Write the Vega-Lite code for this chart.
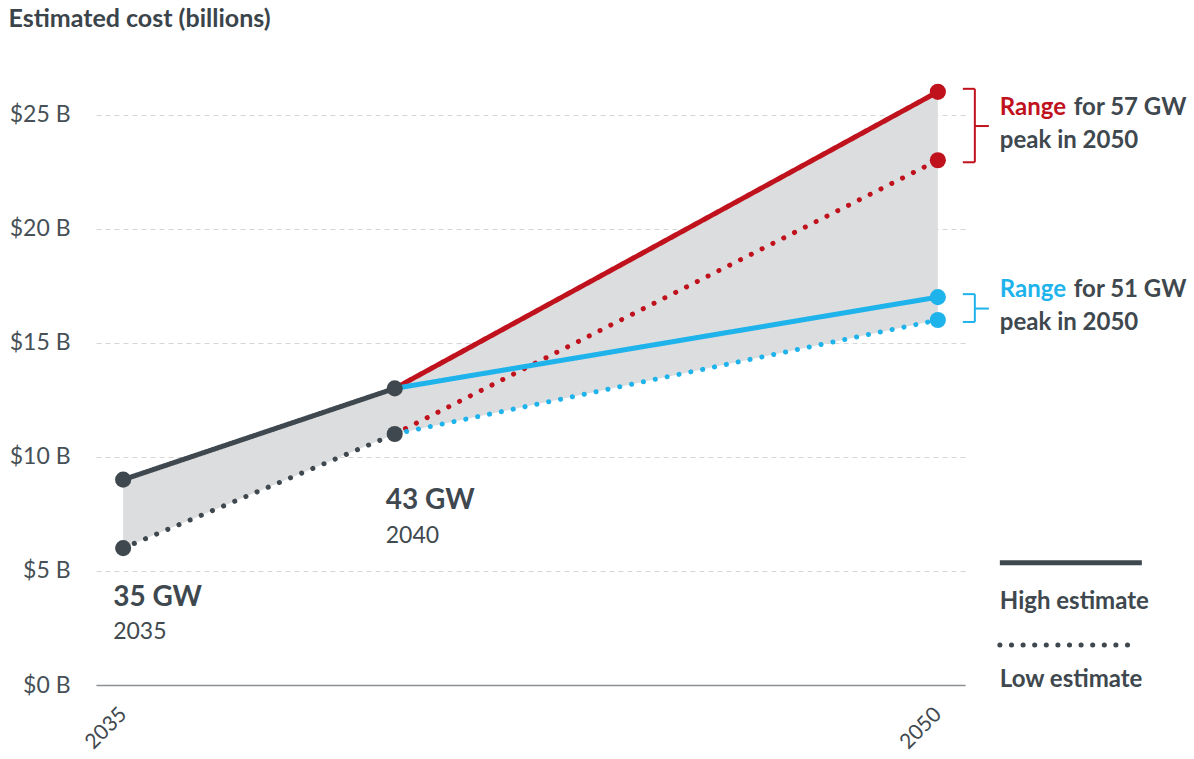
{
  "$schema": "https://vega.github.io/schema/vega-lite/v6.json",
  "width": 869,
  "height": 616,
  "autosize": {"type": "none"},
  "padding": {"left": 96, "top": 69, "right": 229, "bottom": 74},
  "background": "white",
  "config": {"font": "Lato", "view": {"stroke": null}},
  "datasets": {
    "estimates": [
      {"year": 2035, "value": 9, "series": "base", "estimate": "High"},
      {"year": 2040, "value": 13, "series": "base", "estimate": "High"},
      {"year": 2035, "value": 6, "series": "base", "estimate": "Low"},
      {"year": 2040, "value": 11, "series": "base", "estimate": "Low"},
      {"year": 2040, "value": 13, "series": "57 GW", "estimate": "High"},
      {"year": 2050, "value": 26, "series": "57 GW", "estimate": "High"},
      {"year": 2040, "value": 11, "series": "57 GW", "estimate": "Low"},
      {"year": 2050, "value": 23, "series": "57 GW", "estimate": "Low"},
      {"year": 2040, "value": 13, "series": "51 GW", "estimate": "High"},
      {"year": 2050, "value": 17, "series": "51 GW", "estimate": "High"},
      {"year": 2040, "value": 11, "series": "51 GW", "estimate": "Low"},
      {"year": 2050, "value": 16, "series": "51 GW", "estimate": "Low"}
    ],
    "band": [
      {"year": 2035, "low": 6, "high": 9},
      {"year": 2040, "low": 11, "high": 13},
      {"year": 2050, "low": 16, "high": 26}
    ],
    "ranges": [
      {"series": "57 GW", "low": 23, "high": 26},
      {"series": "51 GW", "low": 16, "high": 17}
    ]
  },
  "layer": [
    {
      "data": {"name": "band"},
      "mark": {"type": "area", "color": "#dcdddf"},
      "encoding": {
        "x": {
          "field": "year", "type": "quantitative",
          "scale": {"domain": [2034.5, 2050.5], "nice": false, "zero": false},
          "axis": {
            "values": [2035, 2050], "format": "d", "title": null, "grid": false, "ticks": false,
            "domain": true, "domainColor": "#8c9093", "domainWidth": 1.5,
            "labelAngle": -45, "labelAlign": "right", "labelBaseline": "middle", "labelPadding": 26,
            "labelFontSize": 21, "labelColor": "#3f484e", "labelFlush": false, "labelOverlap": false
          }
        },
        "y": {
          "field": "low", "type": "quantitative",
          "scale": {"domain": [0, 27], "nice": false},
          "axis": {
            "values": [0, 5, 10, 15, 20, 25],
            "labelExpr": "'$' + datum.value + ' B'",
            "title": "Estimated cost (billions)", "titleAngle": 0, "titleX": -88, "titleY": -43,
            "titleAlign": "left", "titleBaseline": "alphabetic", "titleFontSize": 25,
            "titleFontWeight": "bold", "titleColor": "#3a444a",
            "grid": true, "gridDash": [5, 4], "gridColor": "#d6d6d6", "gridWidth": 1,
            "ticks": false, "domain": false, "labelPadding": 26, "labelFontSize": 23,
            "labelColor": "#465056"
          }
        },
        "y2": {"field": "high"}
      }
    },
    {
      "data": {"name": "estimates"},
      "mark": {"type": "line", "strokeWidth": 5, "strokeCap": "round"},
      "encoding": {
        "x": {"field": "year", "type": "quantitative"},
        "y": {"field": "value", "type": "quantitative"},
        "color": {
          "field": "series", "type": "nominal",
          "scale": {"domain": ["base", "57 GW", "51 GW"], "range": ["#3e484e", "#c0121d", "#1fb3ec"]},
          "legend": null
        },
        "strokeDash": {
          "field": "estimate", "type": "nominal",
          "scale": {"domain": ["High", "Low"], "range": [[1, 0], [0.1, 12]]},
          "legend": null
        }
      }
    },
    {
      "data": {"name": "estimates"},
      "transform": [{"filter": "datum.series == 'base' || datum.year == 2050"}],
      "mark": {"type": "circle", "size": 260, "opacity": 1},
      "encoding": {
        "x": {"field": "year", "type": "quantitative"},
        "y": {"field": "value", "type": "quantitative"},
        "color": {"field": "series", "type": "nominal", "legend": null}
      }
    },
    {
      "data": {"name": "ranges"},
      "mark": {"type": "rule", "strokeWidth": 2, "xOffset": 37, "yOffset": -3, "y2Offset": 2},
      "encoding": {
        "x": {"datum": 2050, "type": "quantitative"},
        "y": {"field": "high", "type": "quantitative"},
        "y2": {"field": "low"},
        "color": {"field": "series", "type": "nominal", "legend": null}
      }
    },
    {
      "data": {"name": "ranges"},
      "mark": {"type": "rule", "strokeWidth": 2, "xOffset": 25, "x2Offset": 37, "yOffset": -3},
      "encoding": {
        "x": {"datum": 2050, "type": "quantitative"},
        "x2": {"datum": 2050},
        "y": {"field": "high", "type": "quantitative"},
        "color": {"field": "series", "type": "nominal", "legend": null}
      }
    },
    {
      "data": {"name": "ranges"},
      "mark": {"type": "rule", "strokeWidth": 2, "xOffset": 25, "x2Offset": 37, "yOffset": 2},
      "encoding": {
        "x": {"datum": 2050, "type": "quantitative"},
        "x2": {"datum": 2050},
        "y": {"field": "low", "type": "quantitative"},
        "color": {"field": "series", "type": "nominal", "legend": null}
      }
    },
    {
      "data": {"name": "ranges"},
      "transform": [{"calculate": "(datum.low + datum.high) / 2", "as": "mid"}],
      "mark": {"type": "rule", "strokeWidth": 2, "xOffset": 37, "x2Offset": 51},
      "encoding": {
        "x": {"datum": 2050, "type": "quantitative"},
        "x2": {"datum": 2050},
        "y": {"field": "mid", "type": "quantitative"},
        "color": {"field": "series", "type": "nominal", "legend": null}
      }
    },
    {
      "data": {"values": [{"t": "Range"}]},
      "mark": {"type": "text", "align": "left", "baseline": "alphabetic", "fontSize": 24, "fontWeight": "bold", "dx": 62, "color": "#c0121d"},
      "encoding": {"x": {"datum": 2050, "type": "quantitative"}, "y": {"datum": 25, "type": "quantitative"}, "text": {"field": "t"}}
    },
    {
      "data": {"values": [{"t": "Range"}]},
      "mark": {"type": "text", "align": "left", "baseline": "alphabetic", "fontSize": 24, "fontWeight": "bold", "dx": 62, "color": "#1fb3ec"},
      "encoding": {"x": {"datum": 2050, "type": "quantitative"}, "y": {"datum": 17, "type": "quantitative"}, "text": {"field": "t"}}
    },
    {
      "data": {"values": [{"t": "for 57 GW"}]},
      "mark": {"type": "text", "align": "left", "baseline": "alphabetic", "fontSize": 24, "fontWeight": "bold", "dx": 136, "color": "#3e484e"},
      "encoding": {"x": {"datum": 2050, "type": "quantitative"}, "y": {"datum": 25, "type": "quantitative"}, "text": {"field": "t"}}
    },
    {
      "data": {"values": [{"t": "for 51 GW"}]},
      "mark": {"type": "text", "align": "left", "baseline": "alphabetic", "fontSize": 24, "fontWeight": "bold", "dx": 136, "color": "#3e484e"},
      "encoding": {"x": {"datum": 2050, "type": "quantitative"}, "y": {"datum": 17, "type": "quantitative"}, "text": {"field": "t"}}
    },
    {
      "data": {"values": [{"t": "peak in 2050"}]},
      "mark": {"type": "text", "align": "left", "baseline": "alphabetic", "fontSize": 24, "fontWeight": "bold", "dx": 62, "color": "#3e484e"},
      "encoding": {"x": {"datum": 2050, "type": "quantitative"}, "y": {"datum": 23.54, "type": "quantitative"}, "text": {"field": "t"}}
    },
    {
      "data": {"values": [{"t": "peak in 2050"}]},
      "mark": {"type": "text", "align": "left", "baseline": "alphabetic", "fontSize": 24, "fontWeight": "bold", "dx": 62, "color": "#3e484e"},
      "encoding": {"x": {"datum": 2050, "type": "quantitative"}, "y": {"datum": 15.56, "type": "quantitative"}, "text": {"field": "t"}}
    },
    {
      "data": {"values": [{"t": "35 GW"}]},
      "mark": {"type": "text", "align": "left", "baseline": "alphabetic", "fontSize": 28, "fontWeight": "bold", "dx": -10, "color": "#3e484e"},
      "encoding": {"x": {"datum": 2035, "type": "quantitative"}, "y": {"datum": 3.47, "type": "quantitative"}, "text": {"field": "t"}}
    },
    {
      "data": {"values": [{"t": "2035"}]},
      "mark": {"type": "text", "align": "left", "baseline": "alphabetic", "fontSize": 23, "dx": -10, "color": "#414a4f"},
      "encoding": {"x": {"datum": 2035, "type": "quantitative"}, "y": {"datum": 2.01, "type": "quantitative"}, "text": {"field": "t"}}
    },
    {
      "data": {"values": [{"t": "43 GW"}]},
      "mark": {"type": "text", "align": "left", "baseline": "alphabetic", "fontSize": 28, "fontWeight": "bold", "dx": -9, "color": "#3e484e"},
      "encoding": {"x": {"datum": 2040, "type": "quantitative"}, "y": {"datum": 7.7, "type": "quantitative"}, "text": {"field": "t"}}
    },
    {
      "data": {"values": [{"t": "2040"}]},
      "mark": {"type": "text", "align": "left", "baseline": "alphabetic", "fontSize": 23, "dx": -9, "color": "#414a4f"},
      "encoding": {"x": {"datum": 2040, "type": "quantitative"}, "y": {"datum": 6.24, "type": "quantitative"}, "text": {"field": "t"}}
    },
    {
      "data": {"values": [{"t": "legend"}]},
      "mark": {"type": "rule", "strokeWidth": 5, "color": "#3e484e", "xOffset": 62, "x2Offset": 204},
      "encoding": {"x": {"datum": 2050, "type": "quantitative"}, "x2": {"datum": 2050}, "y": {"datum": 5.36, "type": "quantitative"}}
    },
    {
      "data": {"values": [{"t": "legend"}]},
      "mark": {"type": "rule", "strokeWidth": 5, "color": "#3e484e", "strokeCap": "round", "strokeDash": [0.1, 11.5], "xOffset": 62, "x2Offset": 198},
      "encoding": {"x": {"datum": 2050, "type": "quantitative"}, "x2": {"datum": 2050}, "y": {"datum": 1.75, "type": "quantitative"}}
    },
    {
      "data": {"values": [{"t": "High estimate"}]},
      "mark": {"type": "text", "align": "left", "baseline": "alphabetic", "fontSize": 24, "fontWeight": "bold", "dx": 62, "color": "#3e484e"},
      "encoding": {"x": {"datum": 2050, "type": "quantitative"}, "y": {"datum": 3.33, "type": "quantitative"}, "text": {"field": "t"}}
    },
    {
      "data": {"values": [{"t": "Low estimate"}]},
      "mark": {"type": "text", "align": "left", "baseline": "alphabetic", "fontSize": 24, "fontWeight": "bold", "dx": 62, "color": "#3e484e"},
      "encoding": {"x": {"datum": 2050, "type": "quantitative"}, "y": {"datum": -0.09, "type": "quantitative"}, "text": {"field": "t"}}
    }
  ]
}
